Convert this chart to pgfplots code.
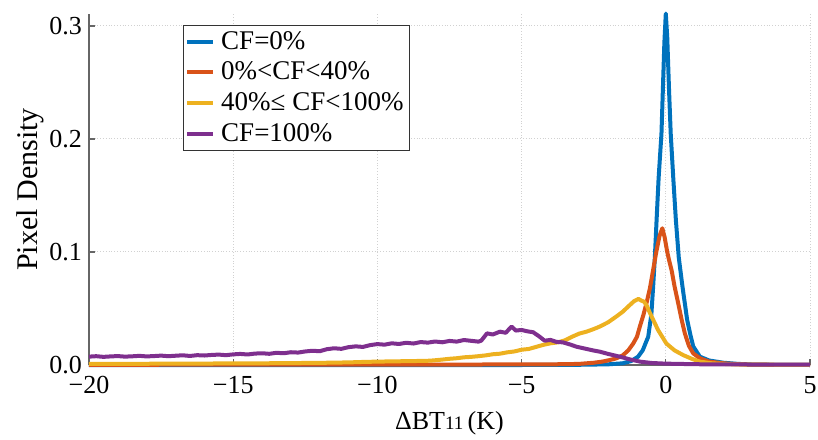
\documentclass[border=0pt]{standalone}
\usepackage{fontspec}
\setmainfont{Liberation Serif}
\usepackage{pgfplots}
\pgfplotsset{compat=1.18}
\definecolor{mblue}{RGB}{0,114,189}
\definecolor{mred}{RGB}{217,83,25}
\definecolor{myellow}{RGB}{237,177,32}
\definecolor{mpurple}{RGB}{126,47,142}

\pgfplotstableread{
x y
-20 0
-5 0
-3 0.0002
-2 0.0006
-1.5 0.0015
-1.2 0.0035
-0.96 0.0074
-0.8 0.013
-0.61 0.025
-0.5 0.045
-0.44 0.069
-0.38 0.095
-0.32 0.128
-0.25 0.165
-0.15 0.205
-0.1 0.245
-0.05 0.285
0 0.311
0.05 0.290
0.11 0.245
0.17 0.205
0.26 0.165
0.35 0.128
0.45 0.095
0.58 0.069
0.74 0.040
0.85 0.027
0.95 0.0165
1.18 0.0074
1.5 0.004
2 0.002
2.5 0.001
3 0.0004
4 0.0001
5 0
}\cfzero

\pgfplotstableread{
x y
-20 0.0002
-10 0.0003
-5 0.0005
-3.5 0.0007
-3 0.001
-2.5 0.002
-2.2 0.003
-1.94 0.0044
-1.7 0.006
-1.48 0.0088
-1.3 0.013
-1.13 0.019
-1.0 0.025
-0.9 0.034
-0.78 0.044
-0.67 0.0546
-0.55 0.068
-0.44 0.084
-0.33 0.100
-0.22 0.114
-0.12 0.121
-0.04 0.113
0.05 0.100
0.12 0.092
0.2 0.084
0.3 0.070
0.43 0.0546
0.55 0.040
0.66 0.028
0.8 0.017
0.95 0.0103
1.18 0.006
1.5 0.003
2 0.0015
2.5 0.0007
3 0.0003
5 0
}\cflow

\pgfplotstableread{
x y
-20 0.0010
-18 0.0011
-16 0.0013
-14 0.0015
-13 0.0017
-12 0.0019
-11 0.0023
-10.5 0.0027
-10 0.0030
-9.5 0.0032
-9 0.0034
-8.5 0.0036
-8.18 0.0038
-8 0.0042
-7.75 0.0048
-7.5 0.0055
-7.25 0.0060
-7 0.0068
-6.75 0.0072
-6.5 0.0078
-6.25 0.0085
-6 0.0095
-5.75 0.0100
-5.5 0.0112
-5.25 0.0120
-5 0.0135
-4.75 0.0142
-4.5 0.0160
-4.25 0.0178
-4 0.0192
-3.75 0.0200
-3.5 0.0218
-3.25 0.0250
-3 0.0278
-2.75 0.0295
-2.5 0.0318
-2.29 0.0340
-2 0.0378
-1.71 0.0430
-1.5 0.0470
-1.25 0.0530
-1.1 0.0565
-0.95 0.0585
-0.85 0.0570
-0.75 0.0560
-0.65 0.0520
-0.55 0.0460
-0.4 0.0380
-0.27 0.0310
-0.1 0.0240
0.02 0.0190
0.3 0.0130
0.6 0.0088
0.9 0.0055
1.18 0.0030
1.6 0.0015
2.2 0.0007
3 0.0003
5 0.0001
}\cfmid

\pgfplotstableread{
x y
-20 0.0074
-19.75 0.0078
-19.5 0.0072
-19.25 0.0076
-19 0.0079
-18.75 0.0074
-18.5 0.0077
-18.25 0.0081
-18 0.0076
-17.75 0.0079
-17.5 0.0083
-17.25 0.0078
-17 0.0082
-16.75 0.0086
-16.5 0.0080
-16.25 0.0087
-16 0.0084
-15.75 0.0089
-15.5 0.0092
-15.25 0.0087
-15 0.0094
-14.75 0.0098
-14.5 0.0093
-14.25 0.0101
-14 0.0104
-13.75 0.0099
-13.5 0.0108
-13.25 0.0104
-13 0.0113
-12.75 0.0110
-12.5 0.0120
-12.25 0.0126
-12 0.0122
-11.75 0.0140
-11.5 0.0148
-11.25 0.0143
-11 0.0158
-10.75 0.0165
-10.5 0.0160
-10.25 0.0176
-10 0.0185
-9.75 0.0180
-9.5 0.0192
-9.25 0.0186
-9 0.0197
-8.75 0.0190
-8.5 0.0203
-8.25 0.0198
-8 0.0208
-7.75 0.0201
-7.5 0.0213
-7.25 0.0207
-7 0.0221
-6.75 0.0214
-6.5 0.0207
-6.4 0.0215
-6.2 0.0280
-6 0.0270
-5.75 0.0295
-5.55 0.0285
-5.35 0.0340
-5.2 0.0305
-5 0.0310
-4.8 0.0298
-4.6 0.0290
-4.4 0.0255
-4.2 0.0215
-4 0.0222
-3.8 0.0205
-3.56 0.0200
-3.3 0.0180
-3.1 0.0162
-2.8 0.0145
-2.5 0.0128
-2.29 0.0118
-2 0.0098
-1.6 0.0074
-1.25 0.0050
-0.9 0.0030
-0.5 0.0018
0 0.0012
1 0.0007
2 0.0005
5 0.0003
}\cffull

\begin{document}
\begin{tikzpicture}
\path[use as bounding box] (-44.5pt,-37pt) rectangle (364.5pt,182.5pt);
\begin{axis}[
  at={(0,0)}, anchor=south west,
  scale only axis, width=360.5pt, height=175.5pt,
  xmin=-20, xmax=5, ymin=0, ymax=0.3106,
  clip=false,
  axis x line*=bottom, axis y line*=left,
  axis line style={-, black!60, line width=0.7pt},
  xtick={-20,-15,-10,-5,0,5},
  xticklabels={−20,−15,−10,−5,0,5},
  ytick={0,0.1,0.2,0.3},
  yticklabels={0.0,0.1,0.2,0.3},
  tick align=inside, major tick length=3pt,
  major tick style={black!60, line width=0.6pt},
  grid=major, grid style={densely dotted, black!18, line width=0.5pt},
  tick label style={font=\fontsize{13}{15}\selectfont},
  xticklabel style={yshift=-2pt},
  xlabel={ΔBT{\fontsize{9.5}{10}\selectfont 11}\,(K)},
  xlabel style={at={(axis description cs:0.5,-0.165)}, anchor=center,
                font=\fontsize{13}{15}\selectfont},
  ylabel={Pixel Density},
  ylabel style={at={(axis description cs:-0.082,0.5)}, anchor=center, rotate=0,
                font=\fontsize{15}{17}\selectfont},
  legend style={at={(axis description cs:0.130,0.969)}, anchor=north west,
                draw=black!80, line width=0.5pt, fill=white,
                font=\fontsize{13.5}{15}\selectfont, inner sep=1pt,
                row sep=0.8pt,
                /tikz/every odd column/.append style={column sep=1pt}},
  legend cell align=left,
  legend image code/.code={\draw[#1, line width=2pt] (0pt,0pt) -- (13pt,0pt);},
  every axis plot/.append style={line width=2pt, line join=round},
]
\addplot[mblue] table {\cfzero};
\addplot[mred] table {\cflow};
\addplot[myellow] table {\cfmid};
\addplot[mpurple] table {\cffull};
\legend{CF=0\%, 0\%<CF<40\%, 40\%≤ CF<100\%, CF=100\%}
\end{axis}
\end{tikzpicture}
\end{document}
